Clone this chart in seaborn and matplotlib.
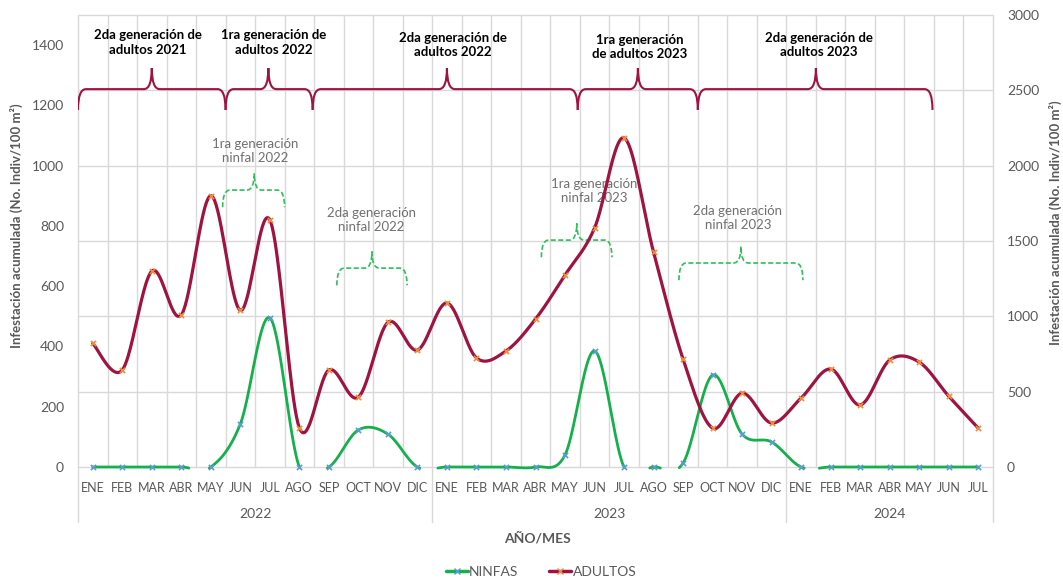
import numpy as np
import pandas as pd
import matplotlib
matplotlib.use("Agg")
import matplotlib.pyplot as plt
from matplotlib.path import Path
from matplotlib.patches import PathPatch
from matplotlib.lines import Line2D
import seaborn as sns

# datos
meses = ["ENE", "FEB", "MAR", "ABR", "MAY", "JUN", "JUL", "AGO", "SEP", "OCT", "NOV", "DIC"]
etiquetas_mes = meses + meses + meses[:7]
anios = ["2022", "2023", "2024"]
ninfas = [0, 0, 0, 0, 0, 143, 495, 0, 0, 123, 109, 0,
          0, 0, 0, 0, 40, 385, 0, 0, 13, 305, 109, 83,
          0, 0, 0, 0, 0, 0, 0]
adultos = [410, 322, 650, 505, 900, 520, 820, 130, 322, 232, 480, 388,
           544, 362, 385, 491, 637, 793, 1092, 713, 358, 129, 245, 146,
           229, 325, 206, 355, 348, 235, 129]

# llaves (texto, x0, x1, x punta)
llaves_adultos = [
    ("2da generación de\nadultos 2021", -0.5, 4.5, 2.0),
    ("1ra generación de\nadultos 2022", 4.5, 7.45, 5.95),
    ("2da generación de\nadultos 2022", 7.45, 16.43, 12.0),
    ("1ra generación\nde adultos 2023", 16.43, 20.5, 18.47),
    ("2da generación de\nadultos 2023", 20.5, 28.45, 24.5),
]
llaves_ninfas = [
    ("1ra generación\nninfal 2022", 4.4, 6.5, 5.47, 919),
    ("2da generación\nninfal 2022", 8.27, 10.65, 9.46, 660),
    ("1ra generación\nninfal 2023", 15.2, 17.59, 16.4, 753),
    ("2da generación\nninfal 2023", 19.86, 24.06, 21.96, 677),
]
pos_texto_adultos = [(1.87, 1409), (6.12, 1409), (12.2, 1400), (18.54, 1393), (24.6, 1400)]
pos_texto_ninfas = [(5.51, 1048), (9.44, 819), (17.0, 916), (21.86, 826)]

VERDE = "#14B04C"
GRANATE = "#9E1340"
GRIS = "#595959"


def suavizar(y, n=40):
    # curva tipo Excel (bezier con tension 1/6)
    y = np.asarray(y, dtype=float)
    x = np.arange(len(y), dtype=float)
    xs, ys = [], []
    t = np.linspace(0, 1, n)
    for i in range(len(y) - 1):
        a, b = max(i - 1, 0), min(i + 2, len(y) - 1)
        cx1 = x[i] + (x[i + 1] - x[a]) / 6
        cx2 = x[i + 1] - (x[b] - x[i]) / 6
        cy1 = y[i] + (y[i + 1] - y[a]) / 6
        cy2 = y[i + 1] - (y[b] - y[i]) / 6
        bx = (1 - t) ** 3 * x[i] + 3 * (1 - t) ** 2 * t * cx1 + 3 * (1 - t) * t ** 2 * cx2 + t ** 3 * x[i + 1]
        by = (1 - t) ** 3 * y[i] + 3 * (1 - t) ** 2 * t * cy1 + 3 * (1 - t) * t ** 2 * cy2 + t ** 3 * y[i + 1]
        xs.extend(bx)
        ys.extend(by)
    return np.array(xs), np.array(ys)


def tabla_suave(nombre, valores):
    # lo que cae bajo el eje no se ve (como en Excel)
    xs, ys = suavizar(valores)
    visible = ys > -4
    seg = np.cumsum(~visible)
    df = pd.DataFrame({"x": xs, "y": ys, "serie": nombre, "tramo": seg})
    return df[visible]


def llave(ax, x0, x1, xt, yb, ye, yt, dx, **kw):
    P = Path
    verts = [(x0, ye), (x0, yb), (x0 + dx, yb),
             (xt - dx, yb), (xt, yb), (xt, yt),
             (xt, yb), (xt + dx, yb),
             (x1 - dx, yb), (x1, yb), (x1, ye)]
    codes = [P.MOVETO, P.CURVE3, P.CURVE3,
             P.LINETO, P.CURVE3, P.CURVE3,
             P.CURVE3, P.CURVE3,
             P.LINETO, P.CURVE3, P.CURVE3]
    ax.add_patch(PathPatch(Path(verts, codes), fill=False, **kw))


sns.set_theme(style="white")
plt.rcParams["font.family"] = ["Lato", "DejaVu Sans"]

fig = plt.figure(figsize=(10.63, 5.78), dpi=100)
ax = fig.add_axes([78 / 1063, 1 - 467 / 578, 915 / 1063, 452 / 578])

# cuadricula
for v in np.arange(0, 1501, 250):
    ax.axhline(v, color="#D9D9D9", lw=1, zorder=0)
for v in np.arange(-0.5, 31, 1):
    ax.axvline(v, color="#D9D9D9", lw=1, zorder=0)

suave = pd.concat([tabla_suave("NINFAS", ninfas), tabla_suave("ADULTOS", adultos)])
sns.lineplot(data=suave[suave.serie == "NINFAS"], x="x", y="y", units="tramo", estimator=None,
             sort=False, color=VERDE, lw=2.0, ax=ax, legend=False, zorder=3)
sns.lineplot(data=suave[suave.serie == "ADULTOS"], x="x", y="y", units="tramo", estimator=None,
             sort=False, color=GRANATE, lw=2.3, ax=ax, legend=False, zorder=4)
for l in ax.lines:
    l.set_clip_on(False)

puntos = pd.DataFrame({"x": np.arange(len(ninfas)), "ninfas": ninfas, "adultos": adultos})
sns.scatterplot(data=puntos, x="x", y="ninfas", marker="x", color="#5B9BD5", s=14,
                linewidth=1.2, ax=ax, zorder=5, clip_on=False)
sns.scatterplot(data=puntos, x="x", y="adultos", marker="x", color="#F08A3C", s=14,
                linewidth=1.2, ax=ax, zorder=6, clip_on=False)

ax.set_xlim(-0.5, 30.5)
ax.set_ylim(0, 1500)
ax.set_xticks(range(len(etiquetas_mes)))
ax.set_xticklabels(etiquetas_mes)
ax.set_yticks(np.arange(0, 1401, 200))
ax.tick_params(axis="x", length=0, pad=11, labelsize=9, labelcolor=GRIS)
ax.tick_params(axis="y", length=0, pad=10, labelsize=10, labelcolor=GRIS)
ax.set_xlabel("")
ax.set_ylabel("")
for s in ax.spines.values():
    s.set_visible(False)

ax2 = ax.twinx()
ax2.set_ylim(0, 3000)
ax2.set_yticks(np.arange(0, 3001, 500))
ax2.tick_params(axis="y", length=0, pad=10, labelsize=10, labelcolor=GRIS)
ax2.grid(False)
for s in ax2.spines.values():
    s.set_visible(False)

# etiquetas de anio y separadores
tr = ax.get_xaxis_transform()
for xs in [-0.5, 11.5, 23.5, 30.5]:
    ax.add_line(Line2D([xs, xs], [0, -0.122], transform=tr, color="#D9D9D9", lw=1, clip_on=False))
for anio, xc in zip(anios, [5.5, 17.5, 27.0]):
    ax.text(xc, -0.104, anio, transform=tr, ha="center", va="center", fontsize=10, color=GRIS)

# llaves
for (txt, x0, x1, xt), (tx, ty) in zip(llaves_adultos, pos_texto_adultos):
    llave(ax, x0, x1, xt, 1254, 1185, 1324, 0.27, edgecolor=GRANATE, lw=1.5, zorder=2)
    ax.text(tx, ty, txt, ha="center", va="center", fontsize=9.5, fontweight="bold",
            color="black", linespacing=1.25)
for (txt, x0, x1, xt, yb), (tx, ty) in zip(llaves_ninfas, pos_texto_ninfas):
    llave(ax, x0, x1, xt, yb, yb - 57, yb + 55, 0.25, edgecolor="#2DBE5E", lw=1.2,
          linestyle=(0, (3, 1.5)), zorder=2)
    ax.text(tx, ty, txt, ha="center", va="center", fontsize=9.5, color="#707070",
            linespacing=1.25)

etiqueta_y = "Infestación acumulada (No. Indiv/100 m²)"
fig.text(16 / 1063, 1 - 226 / 578, etiqueta_y, rotation=90, ha="center", va="center",
         fontsize=9.5, fontweight="bold", color=GRIS)
fig.text(1055 / 1063, 1 - 223 / 578, etiqueta_y, rotation=90, ha="center", va="center",
         fontsize=9.5, fontweight="bold", color=GRIS)
fig.text(537 / 1063, 1 - 538 / 578, "AÑO/MES", ha="center", va="center",
         fontsize=10, fontweight="bold", color=GRIS)

manejadores = [
    Line2D([], [], color=VERDE, lw=2.5, marker="x", markersize=4, markeredgecolor="#5B9BD5"),
    Line2D([], [], color=GRANATE, lw=2.5, marker="x", markersize=4, markeredgecolor="#F08A3C"),
]
leg = fig.legend(manejadores, ["NINFAS", "ADULTOS"], loc="center", ncol=2, frameon=False,
                 bbox_to_anchor=(541 / 1063, 1 - 572 / 578), handlelength=1.6, handletextpad=0.1,
                 columnspacing=2.2, fontsize=10)
for t in leg.get_texts():
    t.set_color(GRIS)

fig.savefig("out.png", dpi=100)
